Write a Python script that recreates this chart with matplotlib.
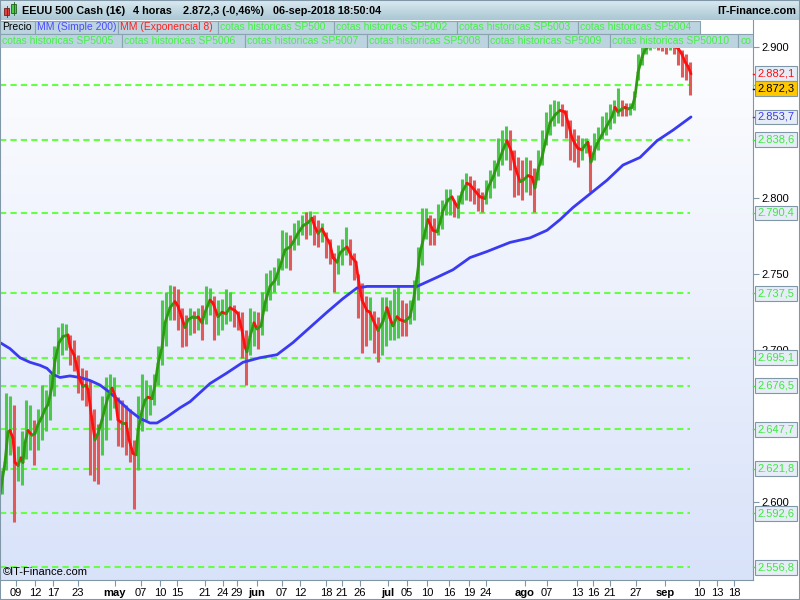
import numpy as np
import matplotlib.pyplot as plt
from matplotlib.collections import LineCollection
from matplotlib.colors import LinearSegmentedColormap
from matplotlib.patches import Rectangle

plt.rcParams['font.family'] = ['Liberation Sans', 'DejaVu Sans']

# price bars (4h bars taken in groups of four), highs / lows
bar_high = [2621, 2672, 2670, 2664, 2637, 2647, 2667, 2664, 2654, 2661,
            2677, 2674, 2684, 2703, 2715, 2718, 2717, 2710, 2707, 2697,
            2688, 2687, 2680, 2661, 2651, 2670, 2682, 2684, 2682, 2669,
            2667, 2664, 2661, 2641, 2670, 2684, 2680, 2677, 2684, 2703,
            2733, 2738, 2743, 2742, 2740, 2728, 2723, 2728, 2726, 2728,
            2730, 2742, 2741, 2736, 2733, 2734, 2740, 2738, 2730, 2726,
            2725, 2713, 2728, 2726, 2725, 2738, 2751, 2753, 2755, 2761,
            2779, 2778, 2776, 2784, 2786, 2789, 2791, 2792, 2789, 2786,
            2784, 2778, 2773, 2764, 2769, 2773, 2781, 2773, 2764, 2750,
            2744, 2736, 2735, 2726, 2722, 2735, 2735, 2733, 2740, 2742,
            2733, 2731, 2733, 2746, 2768, 2794, 2794, 2789, 2787, 2796,
            2799, 2806, 2806, 2799, 2802, 2813, 2817, 2815, 2812, 2807,
            2804, 2812, 2819, 2825, 2840, 2845, 2848, 2845, 2832, 2827,
            2825, 2827, 2825, 2820, 2832, 2845, 2857, 2862, 2865, 2864,
            2862, 2858, 2852, 2846, 2842, 2840, 2840, 2835, 2843, 2847,
            2854, 2857, 2862, 2865, 2873, 2865, 2863, 2863, 2871, 2895,
            2901, 2903, 2904, 2906, 2906, 2904, 2904, 2906, 2904, 2901,
            2898, 2895, 2890]
bar_low = [2605, 2621, 2631, 2587, 2614, 2611, 2628, 2634, 2624, 2634,
           2641, 2647, 2654, 2670, 2684, 2697, 2700, 2690, 2686, 2672,
           2667, 2663, 2618, 2614, 2612, 2631, 2641, 2654, 2662, 2637,
           2636, 2631, 2626, 2595, 2621, 2647, 2654, 2657, 2664, 2677,
           2690, 2703, 2720, 2720, 2713, 2702, 2703, 2710, 2711, 2713,
           2707, 2717, 2723, 2707, 2710, 2713, 2717, 2719, 2715, 2713,
           2695, 2677, 2697, 2703, 2701, 2710, 2726, 2733, 2738, 2743,
           2753, 2754, 2753, 2766, 2769, 2776, 2773, 2776, 2769, 2768,
           2771, 2761, 2757, 2738, 2750, 2756, 2763, 2756, 2746, 2721,
           2698, 2703, 2707, 2698, 2692, 2697, 2703, 2707, 2707, 2708,
           2709, 2709, 2717, 2720, 2733, 2756, 2773, 2769, 2769, 2776,
           2780, 2789, 2789, 2788, 2787, 2796, 2799, 2798, 2796, 2792,
           2791, 2796, 2800, 2807, 2815, 2822, 2825, 2819, 2801, 2802,
           2799, 2804, 2802, 2791, 2812, 2822, 2835, 2842, 2848, 2850,
           2848, 2840, 2825, 2824, 2821, 2825, 2830, 2804, 2825, 2832,
           2839, 2842, 2846, 2850, 2854, 2854, 2854, 2855, 2858, 2878,
           2888, 2895, 2898, 2899, 2898, 2897, 2895, 2898, 2895, 2888,
           2880, 2878, 2868]

# MM (Exponencial 8)
ema_bar = [0, 5, 8, 10, 13, 15, 18, 21, 23, 25, 28, 32, 35, 38, 42, 45, 48, 52, 55, 59,
           63, 68, 70, 74, 77, 79, 83, 86, 88, 92, 95, 98, 102, 105, 108, 112, 115, 118, 122, 126,
           129, 133, 136, 138, 142, 145, 148, 152, 155, 158, 162, 165, 170, 175, 178, 182, 185, 188, 193, 198,
           202, 205, 210, 213, 218, 222, 226, 230, 235, 238, 242, 245, 247, 250, 254, 257, 261, 265, 270, 275,
           280, 285, 290, 293, 298, 303, 308, 312, 315, 318, 322, 325, 330, 333, 337, 340, 343, 347, 352, 356,
           358, 362, 367, 370, 373, 378, 383, 387, 390, 393, 397, 400, 405, 410, 413, 417, 420, 424, 428, 433,
           437, 440, 443, 448, 452, 455, 458, 462, 467, 470, 475, 480, 485, 488, 493, 498, 503, 507, 512, 515,
           520, 523, 528, 532, 535, 538, 542, 545, 550, 555, 560, 565, 568, 572, 575, 578, 582, 585, 588, 591,
           593, 597, 602, 607, 612, 615, 618, 622, 625, 628, 632, 635, 638, 642, 645, 650, 655, 660, 665, 670,
           675, 678, 682, 685, 688, 691]
ema_val = [2605, 2626, 2646, 2647, 2642, 2626, 2624, 2629, 2626, 2639, 2647, 2644, 2645, 2651, 2656, 2661, 2664, 2676, 2693, 2705,
           2709, 2710, 2702, 2697, 2689, 2682, 2676, 2677, 2674, 2654, 2641, 2645, 2654, 2662, 2669, 2675, 2670, 2654, 2652, 2652,
           2641, 2632, 2631, 2647, 2660, 2667, 2669, 2668, 2677, 2691, 2702, 2718, 2728, 2732, 2729, 2721, 2715, 2720, 2722, 2722,
           2718, 2725, 2733, 2731, 2722, 2725, 2724, 2728, 2726, 2724, 2713, 2702, 2699, 2709, 2718, 2714, 2716, 2731, 2742, 2746,
           2755, 2766, 2768, 2771, 2777, 2782, 2784, 2787, 2781, 2777, 2780, 2776, 2770, 2761, 2758, 2764, 2766, 2768, 2761, 2758,
           2748, 2733, 2726, 2725, 2720, 2713, 2719, 2728, 2721, 2716, 2722, 2720, 2719, 2722, 2731, 2748, 2764, 2775, 2786, 2779,
           2778, 2784, 2792, 2799, 2801, 2797, 2794, 2804, 2810, 2809, 2805, 2801, 2800, 2807, 2814, 2823, 2832, 2838, 2830, 2821,
           2811, 2812, 2815, 2814, 2807, 2819, 2827, 2836, 2850, 2855, 2858, 2857, 2850, 2840, 2836, 2833, 2832, 2835, 2837, 2824,
           2829, 2836, 2842, 2848, 2854, 2860, 2857, 2859, 2860, 2859, 2860, 2867, 2883, 2893, 2898, 2901, 2903, 2904, 2902, 2901,
           2900, 2899, 2895, 2890, 2887, 2882.1]

# MM (Simple 200)
sma_bar = [0, 10, 20, 30, 40, 47, 53, 60, 70, 80, 90, 100, 110, 120, 130, 140, 150, 157, 167, 180,
           190, 210, 227, 243, 260, 277, 293, 310, 327, 343, 357, 367, 383, 400, 417, 437, 453, 470, 487, 510,
           530, 547, 560, 573, 590, 607, 623, 640, 657, 673, 691]
sma_val = [2705, 2701, 2695, 2692, 2690, 2688, 2684, 2682, 2683, 2682, 2680, 2677, 2672, 2666, 2660, 2655, 2652, 2652, 2656, 2662,
           2666, 2678, 2685, 2692, 2695, 2697, 2705, 2715, 2725, 2734, 2741, 2742, 2742, 2742, 2742, 2748, 2753, 2761, 2765, 2771,
           2774, 2779, 2786, 2794, 2803, 2812, 2822, 2827, 2838, 2845, 2853.7]

# cotas historicas SP500 (the first one has its label hidden under the price tag)
levels = [2875.0, 2838.6, 2790.4, 2737.5, 2695.1, 2676.5, 2647.7, 2621.8, 2592.6, 2556.8]
level_labels = levels[1:]
last_price = 2872.3

tick_bar = [16, 35, 53, 78, 115, 141, 160, 177, 205, 223, 237, 257, 282, 300, 326, 342, 360,
            388, 407, 427, 449, 469, 486, 525, 547, 577, 593, 610, 636, 665, 699, 717, 734]
tick_lab = ['09', '12', '17', '23', 'may', '07', '10', '15', '21', '24', '29', 'jun', '07', '12', '18', '21', '26',
            'jul', '05', '10', '16', '19', '24', 'ago', '07', '13', '16', '21', '27', 'sep', '10', '13', '18']
months = ['may', 'jun', 'jul', 'ago', 'sep']
price_ticks = [2600, 2700, 2750, 2800, 2900]

GREEN_BAR = '#4cc94c'
RED_BAR = '#e05a5a'
EMA_UP = '#2e9a12'
EMA_DOWN = '#ff1010'
SMA_COL = '#3a3af2'
LEVEL_COL = '#66ff44'
FRAME = '#7f97a6'

Y0, Y1 = 2548.5, 2917.6
X1 = 753

fig = plt.figure(figsize=(8, 6), dpi=100)
fig.patch.set_facecolor('white')

ax = fig.add_axes([0.0, 20 / 600, X1 / 800, 560 / 600])
bg = LinearSegmentedColormap.from_list('bg', ['#ffffff', '#d8e2f9'])
ax.imshow(np.linspace(0, 1, 256).reshape(-1, 1), cmap=bg, aspect='auto',
          extent=[0, X1, Y0, Y1], origin='upper', zorder=0)

bar_x = np.arange(len(bar_high)) * 4 + 2
hi = np.array(bar_high, dtype=float)
lo = np.array(bar_low, dtype=float)
mid = (hi + lo) / 2
up = np.diff(mid, prepend=mid[0]) >= 0
ax.hlines(levels, 0, bar_x[-1], colors=LEVEL_COL, linestyles=(0, (3, 2)), lw=1.5, zorder=2)
ax.vlines(bar_x, lo, hi, colors=np.where(up, GREEN_BAR, RED_BAR), lw=2.2, zorder=3)

ax.plot(sma_bar, sma_val, color=SMA_COL, lw=2.0, zorder=4, solid_capstyle='round')

pts = np.column_stack([ema_bar, ema_val])
segs = np.stack([pts[:-1], pts[1:]], axis=1)
cols = np.where(np.diff(ema_val) >= 0, EMA_UP, EMA_DOWN)
ax.add_collection(LineCollection(segs, colors=cols, linewidths=2.0, capstyle='round', zorder=5))

ax.set_xlim(0, X1)
ax.set_ylim(Y0, Y1)

# axes look
for s in ['top', 'left']:
    ax.spines[s].set_visible(False)
for s in ['right', 'bottom']:
    ax.spines[s].set_color(FRAME)
ax.yaxis.tick_right()
ax.set_yticks(price_ticks, [f'{v / 1000:.3f}' for v in price_ticks])
ax.tick_params(axis='y', length=4, color=FRAME, labelsize=8, pad=2)
ax.set_xticks(tick_bar, tick_lab)
ax.tick_params(axis='x', length=4, color=FRAME, labelsize=8, pad=2)
for t in ax.get_xticklabels():
    if t.get_text() in months:
        t.set_fontweight('bold')


def fmt(v):
    return f'{v:,.1f}'.replace(',', '#').replace('.', ',').replace('#', '.')


def tick_mark(v, c):
    ax.plot([1.0, 1.006], [v, v], transform=ax.get_yaxis_transform(), color=c,
            lw=1, clip_on=False, zorder=6)


def tag(v, tc, fc='#e6edf7'):
    tick_mark(v, tc)
    ax.annotate(fmt(v), xy=(1, v), xycoords=ax.get_yaxis_transform(), xytext=(4.5, 0),
                textcoords='offset pixels', ha='left', va='center', fontsize=8, color=tc,
                annotation_clip=False, zorder=7,
                bbox=dict(boxstyle='square,pad=0.22', fc=fc, ec=FRAME, lw=0.8))


tick_mark(levels[0], '#3ee83e')
for lv in level_labels:
    tag(lv, '#3ee83e')
tag(sma_val[-1], SMA_COL)
tag(ema_val[-1], EMA_DOWN)
tag(last_price, 'black', '#ffc800')

ax.text(0.004, 0.006, '©IT-Finance.com', transform=ax.transAxes, fontsize=8,
        va='bottom', ha='left', zorder=8)

# title bar
tax = fig.add_axes([0, 580 / 600, 1, 20 / 600])
tbg = LinearSegmentedColormap.from_list('tb', ['#dbeaf1', '#a9c7d4'])
tax.imshow(np.linspace(0, 1, 64).reshape(-1, 1), cmap=tbg, aspect='auto',
           extent=[0, 800, 20, 0], origin='upper')
tax.set_xlim(0, 800)
tax.set_ylim(20, 0)
tax.axis('off')
tax.add_patch(Rectangle((4, 8), 5, 7, fc='#e04040', ec='#702020', lw=0.6))
tax.plot([6.5, 6.5], [6, 17], color='#702020', lw=0.6)
tax.add_patch(Rectangle((11, 4), 5, 9, fc='#40d040', ec='#206020', lw=0.6))
tax.plot([13.5, 13.5], [2, 15], color='#206020', lw=0.6)
for txt, x in [('EEUU 500 Cash (1€)', 22), ('4 horas', 133),
               ('2.872,3 (-0,46%)', 183), ('06-sep-2018 18:50:04', 273)]:
    tax.text(x, 10.5, txt, fontsize=7.8, fontweight='bold', va='center', ha='left')
tax.text(796, 10.5, 'IT-Finance.com', fontsize=7.8, fontweight='bold', va='center', ha='right')

# legend rows
lax = fig.add_axes([0, 552 / 600, X1 / 800, 28 / 600])
lax.set_xlim(0, X1)
lax.set_ylim(48, 20)
lax.axis('off')
lax.set_zorder(5)
green_txt = '#44f044'
row1 = [('Precio', 0, 35, 'black'), ('MM (Simple 200)', 35, 118, '#4a4aff'),
        ('MM (Exponencial 8)', 118, 218, '#ff2020'),
        ('cotas historicas SP500', 218, 334, green_txt), ('cotas historicas SP5002', 334, 457, green_txt),
        ('cotas historicas SP5003', 457, 578, green_txt), ('cotas historicas SP5004', 578, 700, green_txt)]
row2 = [('cotas historicas SP5005', 0, 122, green_txt), ('cotas historicas SP5006', 122, 245, green_txt),
        ('cotas historicas SP5007', 245, 367, green_txt), ('cotas historicas SP5008', 367, 488, green_txt),
        ('cotas historicas SP5009', 488, 610, green_txt), ('cotas historicas SP50010', 610, 738, green_txt),
        ('co', 738, 870, green_txt)]
for row, (ya, yb) in [(row1, (20.5, 33.5)), (row2, (34, 47.5))]:
    for txt, xa, xb, c in row:
        lax.add_patch(Rectangle((xa, ya), xb - xa, yb - ya, fc='#bcd4e0', ec='#8aa3b0', lw=0.8,
                                clip_on=True))
        lax.text(xa + 2.5, (ya + yb) / 2 + 0.5, txt, fontsize=7.5, color=c, va='center', ha='left',
                 clip_on=True)

fig.add_artist(Rectangle((0, 0), 1, 1, transform=fig.transFigure, fill=False, ec=FRAME, lw=1.5))

fig.savefig('out.png', dpi=100)
